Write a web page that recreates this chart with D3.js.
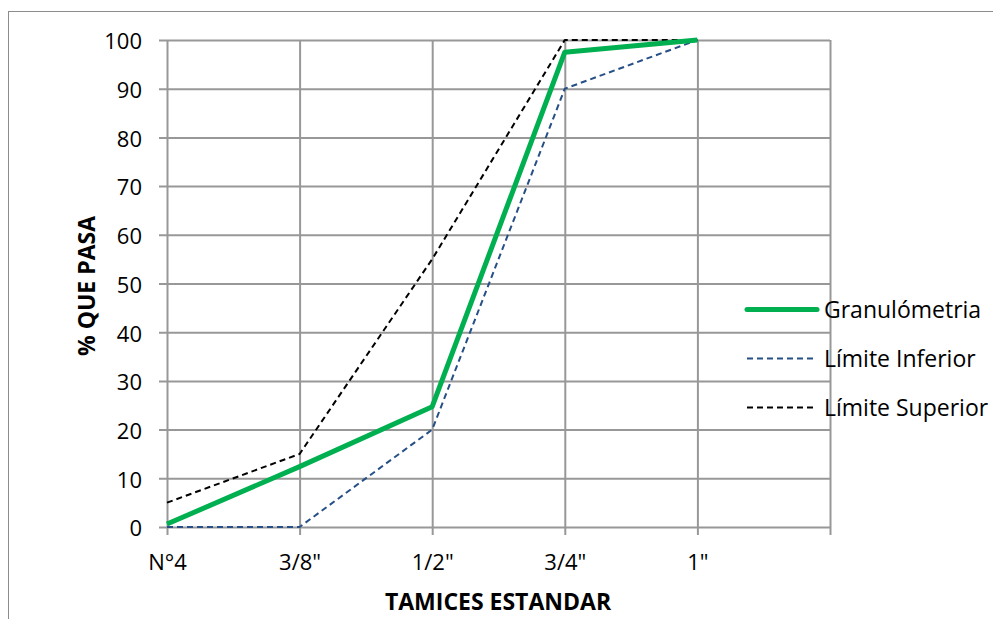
<!DOCTYPE html>
<html>
<head>
<meta charset="utf-8">
<script src="https://cdn.jsdelivr.net/npm/d3@7"></script>
<style>
  html, body { margin: 0; padding: 0; background: #fff; }
  svg { display: block; font-family: "Open Sans", Lato, sans-serif; }
</style>
</head>
<body>
<svg id="chart" width="993" height="619"></svg>
<script>
// Sieve sizes (the last slot is an empty category on the axis)
const categories = ["N°4", "3/8\"", "1/2\"", "3/4\"", "1\"", ""];
const yTicks = [0, 10, 20, 30, 40, 50, 60, 70, 80, 90, 100];

const granulometria = [0.6, 12.4, 24.7, 97.5, 100];
const limiteInferior = [0, 0, 20, 90, 100];
const limiteSuperior = [5, 15, 55, 100, 100];

const seriesNames = ["Granulómetria", "Límite Inferior", "Límite Superior"];

const FONT = "'Open Sans', Lato, sans-serif";
const svg = d3.select("#chart");

// outer chart frame
svg.append("rect")
  .attr("x", 8.5).attr("y", 11.5)
  .attr("width", 1100).attr("height", 700)
  .attr("fill", "#fff").attr("stroke", "#8c8c8c").attr("stroke-width", 1);

const plot = { left: 167, right: 830, top: 40, bottom: 527 };

const x = d3.scalePoint().domain(categories).range([plot.left, plot.right]);
const y = d3.scaleLinear().domain([0, 100]).range([plot.bottom, plot.top]);

const gridColor = "#989898";

// horizontal grid lines with tick stubs on the left
const gy = svg.append("g")
  .attr("transform", `translate(${plot.left},0)`)
  .call(d3.axisLeft(y).tickValues(yTicks).tickSize(-(plot.right - plot.left)).tickPadding(25).tickFormat(d3.format("d")));
gy.select(".domain").remove();
gy.selectAll(".tick line").attr("stroke", gridColor).attr("stroke-width", 2)
  .attr("x1", -8);
gy.selectAll(".tick text").attr("fill", "#000").attr("font-size", 22)
  .attr("font-family", FONT).attr("dy", "0.4em");

// vertical grid lines with tick stubs below the axis
const gx = svg.append("g")
  .attr("transform", `translate(0,${plot.bottom})`)
  .call(d3.axisBottom(x).tickSize(-(plot.bottom - plot.top)).tickPadding(27));
gx.select(".domain").remove();
gx.selectAll(".tick line").attr("stroke", gridColor).attr("stroke-width", 2)
  .attr("y1", 8);
gx.selectAll(".tick text").attr("fill", "#000").attr("font-size", 22)
  .attr("font-family", FONT);

const line = d3.line()
  .x((d, i) => x(categories[i]))
  .y(d => y(d));

const styles = [
  { data: granulometria, color: "#00b050", width: 5, dash: null },
  { data: limiteInferior, color: "#254f86", width: 2, dash: "6,4" },
  { data: limiteSuperior, color: "#000000", width: 2, dash: "6,4" }
];

// draw the limits first, then the measured curve on top
[styles[1], styles[2], styles[0]].forEach(s => {
  svg.append("path")
    .datum(s.data)
    .attr("d", line)
    .attr("fill", "none")
    .attr("stroke", s.color)
    .attr("stroke-width", s.width)
    .attr("stroke-linejoin", "round")
    .attr("stroke-dasharray", s.dash);
});

// legend
const legend = svg.append("g");
styles.forEach((s, i) => {
  const ly = 309.5 + i * 49;
  legend.append("line")
    .attr("x1", 747).attr("x2", 817).attr("y1", ly).attr("y2", ly)
    .attr("stroke", s.color).attr("stroke-width", s.width)
    .attr("stroke-linecap", i === 0 ? "round" : "butt")
    .attr("stroke-dasharray", s.dash);
  legend.append("text")
    .attr("x", 824).attr("y", ly).attr("dy", "0.36em")
    .attr("font-size", 23).attr("fill", "#000")
    .text(seriesNames[i]);
});

// axis titles
svg.append("text")
  .attr("x", 498).attr("y", 610)
  .attr("text-anchor", "middle")
  .attr("font-size", 23).attr("font-weight", "bold")
  .text("TAMICES ESTANDAR");

svg.append("text")
  .attr("transform", "translate(95,286) rotate(-90)")
  .attr("text-anchor", "middle")
  .attr("font-size", 23).attr("font-weight", "bold")
  .text("% QUE PASA");
</script>
</body>
</html>
